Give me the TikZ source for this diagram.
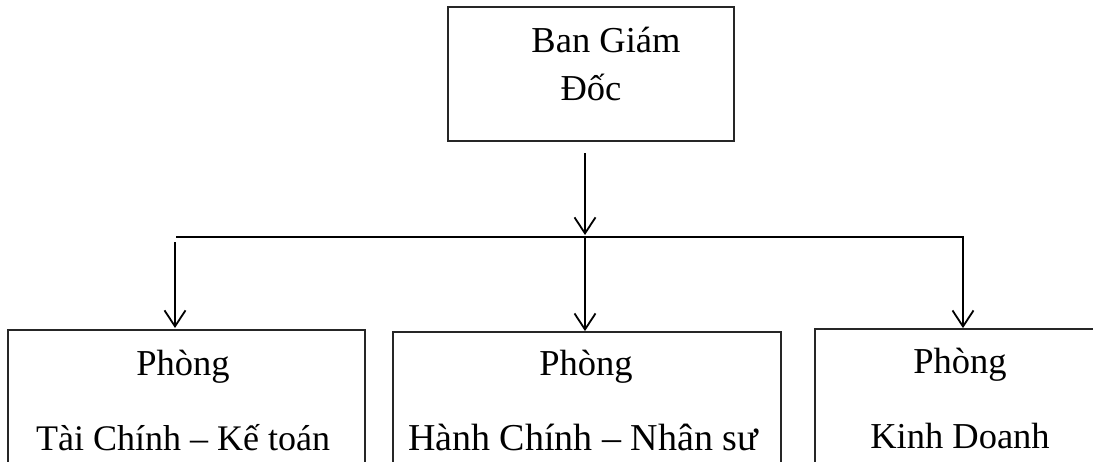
\documentclass[tikz,border=0pt]{standalone}
\usepackage{fontspec}
\setmainfont{Liberation Serif}
\usetikzlibrary{arrows.meta}
\begin{document}
\begin{tikzpicture}[x=1pt,y=-1pt,
  box/.style={draw=black!85, line width=1.8pt, rectangle, inner sep=0pt},
  lbl/.style={font=\fontsize{36.5}{40}\selectfont, inner sep=0pt, anchor=base},
  conn/.style={line width=1.8pt},
  arr/.style={conn,-{Straight Barb[length=16pt,width=21pt,line width=1.8pt]}}]
\useasboundingbox (0,0) rectangle (1093,461);
\clip (0,0) rectangle (1093,461);
% boxes
\node[box, minimum width=286pt, minimum height=134pt] (bgd) at (591,74) {};
\node[box, minimum width=357pt, minimum height=150pt] (tc) at (186.5,405) {};
\node[box, minimum width=388pt, minimum height=148pt] (hc) at (587,406) {};
\node[box, minimum width=295pt, minimum height=151pt] (kd) at (962.5,404.5) {};
% texts
\node[lbl] (t1) at (606,52) {Ban Giám};
\node[lbl] (t2) at (591,100) {Đốc};
\node[lbl] (l1) at (183,375) {Phòng};
\node[lbl, font=\fontsize{36}{40}\selectfont] (l2) at (183,450) {Tài Chính – Kế toán};
\node[lbl] (m1) at (586,375) {Phòng};
\node[lbl, font=\fontsize{38}{40}\selectfont] (m2) at (583,450) {Hành Chính – Nhân sư};
\node[lbl] (r1) at (960,373) {Phòng};
\node[lbl] (r2) at (960,448) {Kinh Doanh};
% connectors
\coordinate (a0) at (585,153);
\coordinate (a1) at (585,235);
\coordinate (bus) at (585,237);
\coordinate (busL) at (176,237);
\coordinate (busR) at (963,237);
\coordinate (l0) at (175,242);
\coordinate (lE) at (175,328);
\draw[arr] (a0) -- (a1);
\draw[arr] (busL) -- (busR) -- (busR |- kd.north);
\draw[arr] (bus) -- (bus |- hc.north);
\draw[arr] (l0) -- (lE);
\end{tikzpicture}
\end{document}
